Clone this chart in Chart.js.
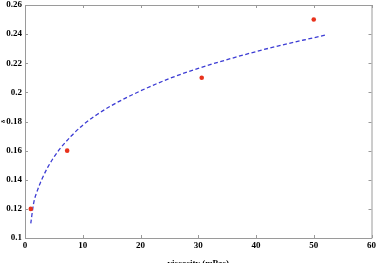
<!DOCTYPE html>
<html><head><meta charset="utf-8">
<script src="https://cdn.jsdelivr.net/npm/chart.js@4/dist/chart.umd.min.js"></script>
<style>html,body{margin:0;padding:0;background:#fff;overflow:hidden}canvas{display:block}</style>
</head><body>
<canvas id="c" width="378" height="263"></canvas>
<script>
// measured points
const pointX = [1, 7.3, 30.6, 50];
const pointY = [0.12, 0.16, 0.21, 0.25];
// fitted curve
const curveX = [1, 1.5, 2, 3, 4, 5, 6, 8, 10, 12, 15, 20, 25, 30, 35, 40, 45, 50, 52];
const curveY = [0.110, 0.124, 0.131, 0.141, 0.149, 0.1555, 0.161, 0.170, 0.1775, 0.1835, 0.191, 0.201, 0.2095, 0.2165, 0.2225, 0.228, 0.233, 0.2375, 0.2393];
const xTitle = 'viscosity (mPas)';
const yTitle = 'δ';

const axisColor = '#9a9a9a';
const tickFont = {family: '"Liberation Serif", "Times New Roman", serif', size: 9, weight: 'bold'};

const frameTicks = {
  id: 'frameTicks',
  afterDraw(chart) {
    const {ctx, chartArea: a, scales: {x, y}} = chart;
    ctx.save();
    ctx.strokeStyle = axisColor;
    ctx.lineWidth = 1;
    ctx.beginPath();
    ctx.rect(a.left + 0.5, a.top + 0.5, a.right - a.left, a.bottom - a.top);
    ctx.stroke();
    ctx.beginPath();
    const L = 3;
    x.ticks.forEach(t => {
      const px = Math.round(x.getPixelForValue(t.value)) + 0.5;
      ctx.moveTo(px, a.bottom); ctx.lineTo(px, a.bottom - L);
      ctx.moveTo(px, a.top); ctx.lineTo(px, a.top + L);
    });
    y.ticks.forEach(t => {
      const py = Math.round(y.getPixelForValue(t.value)) + 0.5;
      ctx.moveTo(a.left, py); ctx.lineTo(a.left + L, py);
      ctx.moveTo(a.right, py); ctx.lineTo(a.right - L, py);
    });
    ctx.stroke();
    ctx.restore();
  }
};

new Chart(document.getElementById('c'), {
  type: 'scatter',
  data: {
    datasets: [
      {
        type: 'line',
        data: curveX.map((v, i) => ({x: v, y: curveY[i]})),
        borderColor: '#3c3cd4',
        borderWidth: 1.3,
        borderDash: [4, 2.5],
        pointRadius: 0,
        fill: false,
        cubicInterpolationMode: 'monotone',
        order: 2
      },
      {
        data: pointX.map((v, i) => ({x: v, y: pointY[i]})),
        backgroundColor: '#e8321c',
        borderColor: '#e8321c',
        pointRadius: 2.3,
        borderWidth: 0,
        order: 1
      }
    ]
  },
  options: {
    responsive: false,
    animation: false,
    layout: {padding: {top: 5, right: 5, left: 0, bottom: 0}},
    plugins: {legend: {display: false}, tooltip: {enabled: false}},
    scales: {
      x: {
        type: 'linear', min: 0, max: 60,
        ticks: {stepSize: 10, color: '#000', font: tickFont, padding: 2, maxRotation: 0},
        grid: {display: false, drawTicks: false},
        border: {display: false},
        title: {display: true, text: xTitle, color: '#000', font: {family: tickFont.family, size: 9, weight: 'bold'}, padding: {top: 0, bottom: -6}},
        afterFit(s) { s.height = 25; s.paddingLeft = 0; }
      },
      y: {
        type: 'linear', min: 0.1, max: 0.26,
        ticks: {stepSize: 0.02, color: '#000', font: tickFont, padding: 3,
          callback: v => String(parseFloat(v.toFixed(2)))},
        grid: {display: false, drawTicks: false},
        border: {display: false},
        title: {display: true, text: yTitle, color: '#000', font: {family: tickFont.family, size: 6, weight: 'bold'}, padding: 0},
        afterFit(s) { s.width = 25; s.paddingTop = 0; s.paddingBottom = 0; }
      }
    }
  },
  plugins: [frameTicks]
});
</script>
</body></html>
